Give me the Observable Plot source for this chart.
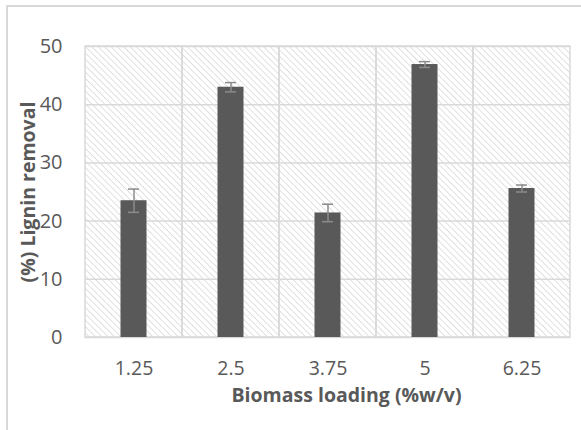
<!DOCTYPE html>
<html>
<head>
<meta charset="utf-8">
<script src="https://cdn.jsdelivr.net/npm/d3@7"></script>
<script src="https://cdn.jsdelivr.net/npm/@observablehq/plot@0.6"></script>
<style>
  html, body { margin: 0; padding: 0; background: #fff; }
  #wrap { position: relative; width: 581px; height: 430px; overflow: hidden; }
  #border { position: absolute; left: 6px; top: 5px; width: 600px; height: 460px; border: 2px solid #d9d9d9; box-sizing: border-box; }
  #chart { position: absolute; left: 0; top: 0; }
</style>
</head>
<body>
<div id="wrap"><div id="border"></div><div id="chart"></div></div>
<script>
const categories = ["1.25", "2.5", "3.75", "5", "6.25"];
const values = [23.5, 43.0, 21.4, 46.9, 25.6];
const errors = [2.0, 0.8, 1.5, 0.5, 0.6];
const yTicks = [0, 10, 20, 30, 40, 50];
const xTitle = "Biomass loading (%w/v)";
const yTitle = "(%) Lignin removal";

const data = categories.map((c, i) => ({c, v: values[i], e: errors[i]}));
const font = "'Open Sans', sans-serif";

const plot = Plot.plot({
  width: 581,
  height: 430,
  marginLeft: 85,
  marginRight: 11,
  marginTop: 46,
  marginBottom: 93,
  style: {fontFamily: font, fontSize: "20px", color: "#595959", background: "transparent"},
  x: {domain: categories, padding: 0, label: null},
  y: {domain: [0, 50], label: null},
  marks: [
    Plot.barY(categories, {x: d => d, y1: 0, y2: 50, fill: "url(#hatch)"}),
    Plot.gridY(yTicks, {stroke: "#d9d9d9", strokeOpacity: 1, strokeWidth: 1.5}),
    Plot.barY(categories, {x: d => d, y1: 0, y2: 50, fill: "none", stroke: "#d9d9d9", strokeWidth: 1.5}),
    Plot.barY(data, {x: "c", y: "v", fill: "#595959", insetLeft: 35.5, insetRight: 35.5}),
    Plot.ruleX(data, {x: "c", y1: d => d.v - d.e, y2: d => d.v + d.e, stroke: "#8c8c8c", strokeWidth: 1.5}),
    Plot.tickY(data, {x: "c", y: d => d.v + d.e, stroke: "#8c8c8c", strokeWidth: 1.5, insetLeft: 43, insetRight: 43}),
    Plot.tickY(data, {x: "c", y: d => d.v - d.e, stroke: "#8c8c8c", strokeWidth: 1.5, insetLeft: 43, insetRight: 43}),
    Plot.axisY(yTicks, {tickSize: 0, tickPadding: 23, fill: "#595959", fontSize: 20, label: null}),
    Plot.axisX({tickSize: 0, tickPadding: 24, fill: "#595959", fontSize: 19.5, label: null}),
    Plot.text([xTitle], {frameAnchor: "bottom", textAnchor: "middle", lineAnchor: "middle", text: d => d, dy: 58, dx: 18.5, fontSize: 19.5, fontWeight: "bold", fill: "#595959"}),
    Plot.text([yTitle], {frameAnchor: "left", textAnchor: "middle", lineAnchor: "middle", text: d => d, rotate: -90, dx: -56.5, fontSize: 19.5, fontWeight: "bold", fill: "#595959"})
  ]
});

const svg = d3.select(plot);
const defs = svg.insert("defs", ":first-child");
const pat = defs.append("pattern")
  .attr("id", "hatch")
  .attr("patternUnits", "userSpaceOnUse")
  .attr("width", 4.5).attr("height", 4.5)
  .attr("patternTransform", "rotate(-45)");
pat.append("rect").attr("width", 4.5).attr("height", 4.5).attr("fill", "#ffffff");
pat.append("line").attr("x1", 0).attr("y1", 0).attr("x2", 0).attr("y2", 4.5)
  .attr("stroke", "#d9d9d9").attr("stroke-width", 1.6);
document.getElementById("chart").appendChild(plot);
</script>
</body>
</html>
